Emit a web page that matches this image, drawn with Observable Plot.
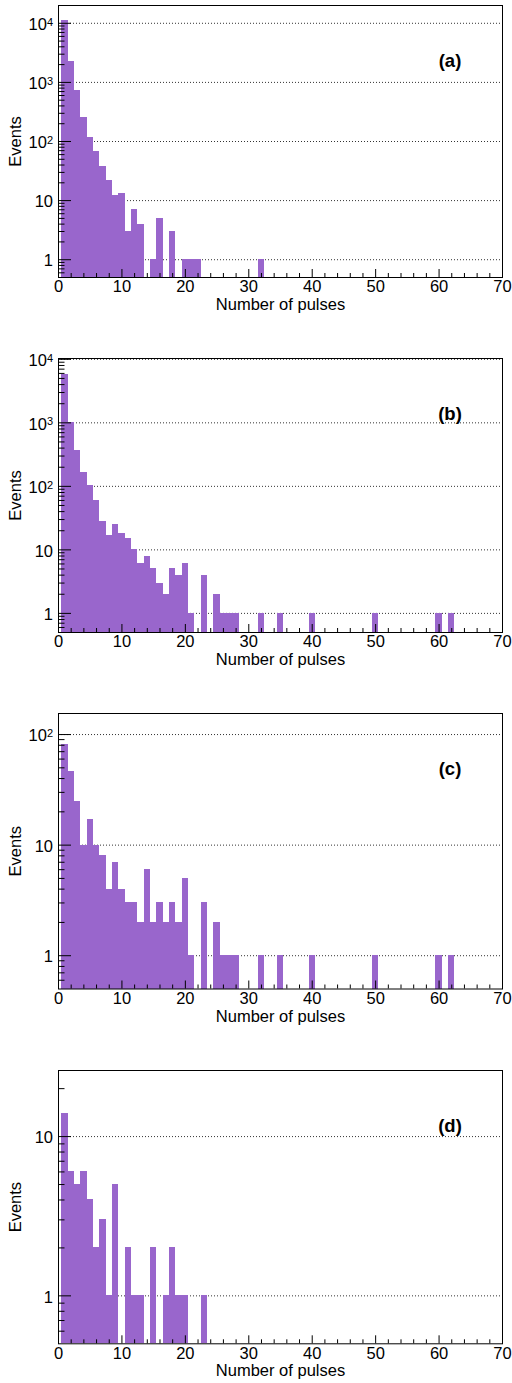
<!DOCTYPE html>
<html><head><meta charset="utf-8">
<script src="https://cdn.jsdelivr.net/npm/d3@7"></script>
<script src="https://cdn.jsdelivr.net/npm/@observablehq/plot@0.6"></script>
<style>
html,body{margin:0;padding:0;background:#fff;}
#chart svg{display:block;}
</style></head><body><div id="chart"></div>
<script>
// ---- data (events per number of pulses, bins n = 1, 2, 3, ...) ----
const panelLabels = ["(a)", "(b)", "(c)", "(d)"];
const countsA = [11000, 2300, 720, 250, 118, 68, 38, 22, 12, 13, 3, 7, 4, 0, 1, 5, 0, 3, 0, 1, 1, 1,
  0, 0, 0, 0, 0, 0, 0, 0, 0, 1];
const countsB = [5700, 1000, 370, 164, 105, 59, 28, 17, 25, 18, 15, 10, 6, 8, 5, 3, 2, 5, 4, 6, 1, 0, 4, 0, 2, 1, 1, 1,
  0, 0, 0, 1, 0, 0, 1, 0, 0, 0, 0, 1, 0, 0, 0, 0, 0, 0, 0, 0, 0, 1, 0, 0, 0, 0, 0, 0, 0, 0, 0, 1, 0, 1];
const countsC = [82, 46, 25, 10, 17, 10, 8, 4, 7, 4, 3, 3, 2, 6, 2, 3, 2, 3, 2, 5, 1, 0, 3, 0, 2, 1, 1, 1,
  0, 0, 0, 1, 0, 0, 1, 0, 0, 0, 0, 1, 0, 0, 0, 0, 0, 0, 0, 0, 0, 1, 0, 0, 0, 0, 0, 0, 0, 0, 0, 1, 0, 1];
const countsD = [14, 6, 5, 6, 4, 2, 3, 1, 5, 0, 2, 1, 1, 0, 2, 0, 1, 2, 1, 1, 0, 0, 1];
const yTop = [20000, 10300, 155, 26];
const yBottom = 0.5;
const xDomain = [0, 70];
const xTickLabels = [0, 10, 20, 30, 40, 50, 60, 70];
const xMinorTicks = [2,4,6,8,12,14,16,18,22,24,26,28,32,34,36,38,42,44,46,48,52,54,56,58,62,64,66,68];
const xTitle = "Number of pulses";
const yTitle = "Events";

// ---- layout ----
const layout = [
  {height: 353, mt: 5, mb: 76},
  {height: 355, mt: 5, mb: 76},
  {height: 357, mt: 5, mb: 76.5},
  {height: 318, mt: 5, mb: 39.7}
];
const W = 512, ML = 58, MR = 10;
const FONT = "'Liberation Sans', Arial, Helvetica, sans-serif";
const allCounts = [countsA, countsB, countsC, countsD];

function decadesIn(lo, hi) {
  const out = [];
  for (let e = -1; e <= 6; e++) { const v = Math.pow(10, e); if (v >= lo && v <= hi) out.push(v); }
  return out;
}
function minorsIn(lo, hi) {
  const out = [];
  for (let e = -1; e <= 6; e++) for (let k = 2; k <= 9; k++) {
    const v = k * Math.pow(10, e); if (v > lo && v < hi) out.push(v);
  }
  return out;
}
const fmt = d => d >= 100 ? "10^" + Math.round(Math.log10(d)) : String(d);

const root = document.getElementById("chart");
allCounts.forEach((counts, i) => {
  const L = layout[i];
  const plotW = W - ML - MR;
  const plotH = L.height - L.mt - L.mb;
  const bins = counts.map((c, j) => ({n: j + 1, c})).filter(d => d.c > 0);
  const dec = decadesIn(yBottom, yTop[i]);
  const minors = minorsIn(yBottom, yTop[i]);
  const svg = Plot.plot({
    width: W, height: L.height,
    marginLeft: ML, marginRight: MR, marginTop: L.mt, marginBottom: L.mb,
    style: {fontFamily: FONT, fontSize: "16.5px", color: "black", background: "white", overflow: "visible"},
    x: {domain: xDomain},
    y: {type: "log", domain: [yBottom, yTop[i]]},
    marks: [
      Plot.ruleY(dec.filter(v => v > yBottom), {y: d => d, stroke: "#333", strokeDasharray: "1,2", strokeWidth: 1}),
      Plot.rect(bins, {x1: d => d.n - 0.5, x2: d => d.n + 0.5, y1: () => yBottom, y2: "c",
        fill: "#9966cc", shapeRendering: "crispEdges"}),
      Plot.tickY(dec, {y: d => d, stroke: "black", insetRight: plotW - 13}),
      Plot.tickY(minors, {y: d => d, stroke: "black", insetRight: plotW - 6.5}),
      Plot.tickX(xTickLabels, {x: d => d, stroke: "black", insetTop: plotH - 8}),
      Plot.tickX(xMinorTicks, {x: d => d, stroke: "black", insetTop: plotH - 4}),
      Plot.frame({stroke: "black", strokeWidth: 1}),
      Plot.axisY({ticks: dec, tickSize: 0, tickPadding: 5.5, tickFormat: fmt, label: null, dy: 1.5}),
      Plot.axisX({ticks: xTickLabels, tickSize: 0, tickPadding: 3, tickFormat: d => String(d), label: null}),
      Plot.text([xTitle], {frameAnchor: "bottom", dy: 27.4, lineAnchor: "middle", textAnchor: "middle"}),
      Plot.text([yTitle], {frameAnchor: "left", dx: -43, rotate: -90, lineAnchor: "middle", textAnchor: "middle"}),
      Plot.text([panelLabels[i]], {frameAnchor: "top-right", dx: -52.5, dy: 56, lineAnchor: "middle",
        textAnchor: "middle", fontWeight: "bold", fontSize: 18.5})
    ]
  });
  // superscript exponents on y tick labels
  svg.querySelectorAll('g[aria-label="y-axis tick label"] text').forEach(t => {
    const s = t.textContent;
    if (s.includes("^")) {
      const [base, exp] = s.split("^");
      t.textContent = "";
      const ns = "http://www.w3.org/2000/svg";
      const a = document.createElementNS(ns, "tspan"); a.textContent = base; t.appendChild(a);
      const b = document.createElementNS(ns, "tspan"); b.textContent = exp;
      b.setAttribute("dy", "-4.5"); b.setAttribute("font-size", "11px"); t.appendChild(b);
    }
  });
  root.appendChild(svg);
});
</script></body></html>
